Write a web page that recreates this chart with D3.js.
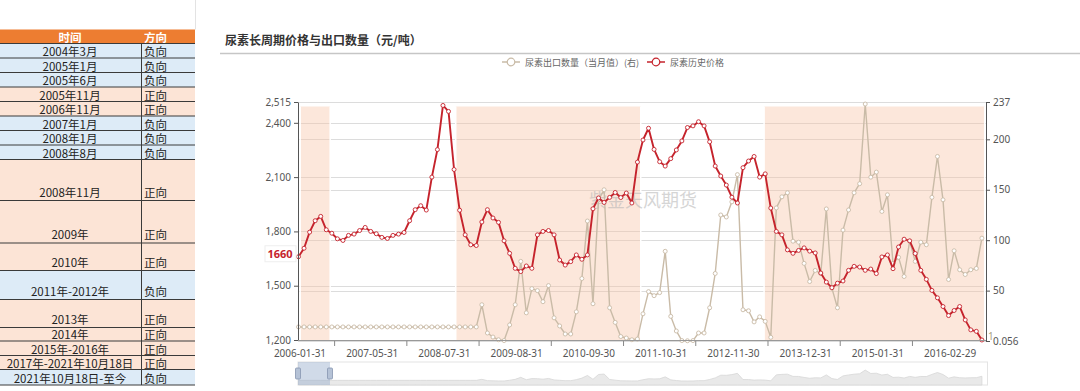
<!DOCTYPE html>
<html>
<head>
<meta charset="utf-8">
<script src="https://cdn.jsdelivr.net/npm/d3@7"></script>
<style>
  html, body { margin: 0; padding: 0; background: #fff; }
  svg { display: block; font-family: "Noto Sans", "Noto Sans CJK SC", sans-serif; }
</style>
</head>
<body>
<svg id="chart" width="1080" height="391"></svg>
<script>
/************************* Data *************************/
const tableHead  = ['时间', '方向'];
const periods    = ['2004年3月', '2005年1月', '2005年6月', '2005年11月', '2006年11月', '2007年1月',
                    '2008年1月', '2008年8月', '2008年11月', '2009年', '2010年', '2011年-2012年',
                    '2013年', '2014年', '2015年-2016年', '2017年-2021年10月18日', '2021年10月18日-至今'];
const directions = ['负向', '负向', '负向', '正向', '正向', '负向', '负向', '负向', '正向', '正向',
                    '正向', '负向', '正向', '正向', '正向', '正向', '负向'];

// months absent from the source series (the first two years are not fully monthly)
const missingMonths = ['2006-04', '2006-08', '2006-12', '2007-12'];

// 尿素历史价格, 元/吨 (left axis)
const price = [
  1660, 1707, 1796, 1859, 1883, 1809, 1790, 1759, 1750, 1778,
  1785, 1805, 1822, 1800, 1787, 1767, 1761, 1778, 1785, 1794,
  1859, 1920, 1942, 1918, 2100, 2252, 2496, 2463, 2142, 1917,
  1781, 1726, 1722, 1852, 1920, 1874, 1850, 1748, 1679, 1596,
  1578, 1609, 1596, 1781, 1800, 1805, 1781, 1642, 1614, 1633,
  1670, 1646, 1670, 1925, 1985, 1960, 1988, 2015, 1987, 2012,
  1957, 2183, 2305, 2370, 2253, 2185, 2161, 2202, 2250, 2300,
  2374, 2383, 2406, 2383, 2295, 2161, 2106, 2056, 1989, 1957,
  2152, 2189, 2214, 2100, 2118, 1929, 1800, 1781, 1698, 1679,
  1695, 1709, 1691, 1681, 1570, 1520, 1489, 1514, 1526, 1585,
  1607, 1603, 1585, 1592, 1567, 1659, 1670, 1594, 1714, 1757,
  1748, 1678, 1585, 1535, 1474, 1433, 1385, 1335, 1363, 1385,
  1311, 1256, 1248, 1200
];

// 尿素出口数量（当月值）, right axis
const exportQty = [
  14, 14, 14, 14, 14, 14, 14, 14, 14, 14,
  14, 14, 14, 14, 14, 14, 14, 14, 14, 14,
  14, 14, 14, 14, 14, 14, 14, 14, 14, 14,
  14, 14, 14, 36, 8, 4, 1.3, 0.5, 16, 36,
  79, 28, 52, 50, 39, 55, 23, 15, 7, 7,
  29, 62, 119, 37, 140, 150, 33, 18.5, 4.5, 3,
  1.3, 2, 27, 49, 45, 48, 89, 24.5, 10, 0.5,
  0.3, 0.5, 8, 8, 33, 67, 125, 123, 138, 165,
  31, 30, 19, 24, 19.5, 3.7, 132, 143, 147, 99,
  98, 77, 59, 70, 67, 131, 52.5, 33, 110, 130,
  147, 156, 235, 162.5, 167.5, 128.5, 145, 77, 83, 64,
  99, 79, 98, 95.5, 142.5, 183, 140, 61, 89.5, 70.7,
  66, 70.7, 72, 102
];

const leftTicks  = [1200, 1500, 1800, 2100, 2400, 2515];
const rightTicks = [0.056, 50, 100, 150, 200, 237];
const labelEvery = 13;

// highlighted periods, in category-index units
const shadeRanges = [[0.3, 5.7], [28.3, 61.6], [83.8, 123.5]];

/************************* Constants *************************/
const RED = '#c5232c';
const TAN = '#c9bba7';
const BLUE_ROW = '#ddebf7';
const PEACH_ROW = '#fce4d6';
const ORANGE = '#ed7d31';
const PLOT = { left: 298, right: 986, top: 102, bottom: 340 };

const monthKey = d3.utcFormat('%Y-%m');
const categories = d3.utcMonth.range(new Date(Date.UTC(2006, 0, 1)), new Date(Date.UTC(2016, 8, 1)))
  .filter(m => !missingMonths.includes(monthKey(m)))
  .map(m => d3.utcFormat('%Y-%m-%d')(d3.utcDay.offset(d3.utcMonth.offset(m, 1), -1)));

const svg = d3.select('#chart');

/************************* Table *************************/
const rowEdges = [29.5, 43.5, 58, 72.5, 87, 101.5, 116, 130.5, 145, 159.5, 200.5,
                  243, 270.5, 299.5, 327.5, 341, 355.5, 369.5, 385];
const table = svg.append('g').attr('class', 'table');
const colX = 141.5, tableRight = 195;

table.append('line')
  .attr('x1', tableRight + 0.5).attr('x2', tableRight + 0.5)
  .attr('y1', 0).attr('y2', rowEdges[0])
  .attr('stroke', '#e3e3e3');

table.append('rect')
  .attr('x', 0).attr('y', rowEdges[0])
  .attr('width', tableRight).attr('height', rowEdges[1] - rowEdges[0])
  .attr('fill', ORANGE);

tableHead.forEach((t, i) => {
  table.append('text')
    .attr('x', i === 0 ? 70 : 144)
    .attr('y', (rowEdges[0] + rowEdges[1]) / 2)
    .attr('text-anchor', i === 0 ? 'middle' : 'start')
    .attr('dominant-baseline', 'central')
    .style('font-family', '"Noto Sans CJK SC"')
    .style('font-size', '11.5px')
    .style('font-weight', 700)
    .style('fill', '#fff')
    .text(t);
});

periods.forEach((p, i) => {
  const y0 = rowEdges[i + 1], y1 = rowEdges[i + 2];
  // Excel-style bottom alignment; tall rows sit a little higher
  const ty = y1 - (y1 - y0 > 20 ? 9 : 7);
  table.append('rect')
    .attr('x', 0).attr('y', y0)
    .attr('width', tableRight).attr('height', y1 - y0)
    .attr('fill', directions[i] === '正向' ? PEACH_ROW : BLUE_ROW);

  table.append('text')
    .attr('x', 70).attr('y', ty)
    .attr('text-anchor', 'middle')
    .attr('dominant-baseline', 'central')
    .style('font-family', '"Noto Sans CJK SC"')
    .style('font-size', '11.5px')
    .style('fill', '#222')
    .text(p);

  table.append('text')
    .attr('x', 144).attr('y', ty)
    .attr('dominant-baseline', 'central')
    .style('font-family', '"Noto Sans CJK SC"')
    .style('font-size', '11.5px')
    .style('fill', '#222')
    .text(directions[i]);
});

rowEdges.slice(1).forEach(y => {
  table.append('line')
    .attr('x1', 0).attr('x2', tableRight)
    .attr('y1', y).attr('y2', y)
    .attr('stroke', '#3a3a3a').attr('stroke-width', 1);
});
table.append('line')
  .attr('x1', colX).attr('x2', colX)
  .attr('y1', rowEdges[1]).attr('y2', rowEdges[rowEdges.length - 1])
  .attr('stroke', '#3a3a3a');

/************************* Title & legend *************************/
svg.append('text')
  .attr('x', 225).attr('y', 39)
  .attr('dominant-baseline', 'central')
  .style('font-family', '"Noto Sans CJK SC"')
  .style('font-size', '12px')
  .style('font-weight', 700)
  .style('fill', '#333')
  .text('尿素长周期价格与出口数量（元/吨）');

svg.append('line')
  .attr('x1', 220).attr('x2', 1080)
  .attr('y1', 53.5).attr('y2', 53.5)
  .attr('stroke', '#c6c6c6').attr('stroke-width', 1.5);

const legendItems = [
  { label: '尿素出口数量（当月值）(右)', color: TAN, x: 502 },
  { label: '尿素历史价格', color: RED, x: 647 }
];
legendItems.forEach(d => {
  const g = svg.append('g').attr('transform', `translate(${d.x},62)`);
  g.append('line').attr('x1', 0).attr('x2', 18)
    .attr('stroke', d.color).attr('stroke-width', 1.5);
  g.append('circle').attr('cx', 9).attr('r', 3.8)
    .attr('fill', '#fff').attr('stroke', d.color).attr('stroke-width', 1.2);
  g.append('text').attr('x', 23)
    .attr('dominant-baseline', 'central')
    .style('font-family', '"Noto Sans CJK SC"')
    .style('font-size', '9px')
    .style('fill', '#666')
    .text(d.label);
});

/************************* Scales *************************/
const x = d3.scaleLinear().domain([0, categories.length - 1]).range([298.5, 981.9]);
const yL = d3.scaleLinear().domain([1200, 2515]).range([PLOT.bottom, PLOT.top]);
const yR = d3.scaleLinear().domain([0.056, 237]).range([PLOT.bottom + 1, PLOT.top]);

/************************* Grid *************************/
const grid = svg.append('g').attr('class', 'grid');
[...leftTicks.map(yL), ...rightTicks.map(yR)].forEach(y => {
  grid.append('line')
    .attr('x1', PLOT.left).attr('x2', PLOT.right)
    .attr('y1', Math.round(y) + 0.5).attr('y2', Math.round(y) + 0.5)
    .attr('stroke', '#dcdcdc');
});

/************************* Highlighted periods *************************/
const shade = svg.append('g').attr('class', 'shade');
shadeRanges.forEach(([a, b]) => {
  shade.append('rect')
    .attr('x', x(a)).attr('y', 106.5)
    .attr('width', Math.min(x(b), PLOT.right) - x(a))
    .attr('height', PLOT.bottom - 106.5)
    .attr('fill', 'rgba(248,196,165,0.4)');
  [x(a), Math.min(x(b), PLOT.right)].forEach(xe => {
    shade.append('line')
      .attr('x1', xe).attr('x2', xe)
      .attr('y1', 106.5).attr('y2', PLOT.bottom)
      .attr('stroke', '#fff').attr('stroke-width', 1.5);
  });
});

// watermark
svg.append('text')
  .attr('x', 589).attr('y', 199)
  .attr('dominant-baseline', 'central')
  .style('font-family', '"Noto Sans CJK SC"')
  .style('font-size', '18px')
  .style('fill', '#b4b4b4')
  .style('opacity', 0.55)
  .text('紫金天风期货');

/************************* Series *************************/
function drawSeries(values, yScale, color, width) {
  const g = svg.append('g');
  g.append('path')
    .datum(values)
    .attr('d', d3.line().x((d, i) => x(i)).y(d => yScale(d)))
    .attr('fill', 'none')
    .attr('stroke', color)
    .attr('stroke-width', width)
    .attr('stroke-linejoin', 'round');
  g.selectAll('circle')
    .data(values)
    .join('circle')
      .attr('cx', (d, i) => x(i))
      .attr('cy', d => yScale(d))
      .attr('r', 2)
      .attr('fill', '#fff')
      .attr('stroke', color)
      .attr('stroke-width', 0.9);
}
drawSeries(exportQty, yR, TAN, 1.4);
drawSeries(price, yL, RED, 1.9);

/************************* Axes *************************/
const axisStyle = g => {
  g.select('.domain').attr('stroke', '#555');
  g.selectAll('.tick line').attr('stroke', '#555');
  g.selectAll('.tick text')
    .style('font-size', '10px')
    .style('fill', '#555')
    .style('font-family', '"Noto Sans", sans-serif');
};

svg.append('g')
  .attr('transform', `translate(${PLOT.left},0)`)
  .call(d3.axisLeft(yL).tickValues(leftTicks).tickSize(4).tickSizeOuter(0).tickFormat(d3.format(',')))
  .call(axisStyle);

svg.append('g')
  .attr('transform', `translate(${PLOT.right},0)`)
  .call(d3.axisRight(yR).tickValues(rightTicks).tickSize(4).tickSizeOuter(0)
    .tickFormat(d => d < 1 ? '0.056' : d))
  .call(axisStyle);

// x axis: labels every 13 categories, ticks half a step off
const xAxis = svg.append('g').attr('class', 'x-axis');
xAxis.append('line')
  .attr('x1', PLOT.left).attr('x2', PLOT.right)
  .attr('y1', PLOT.bottom + 0.5).attr('y2', PLOT.bottom + 0.5)
  .attr('stroke', '#999');
const labelIdx = d3.range(0, categories.length, labelEvery);
labelIdx.forEach(i => {
  const tx = x(i + labelEvery / 2);
  if (tx < PLOT.right - 5) {
    xAxis.append('line')
      .attr('x1', tx).attr('x2', tx)
      .attr('y1', PLOT.bottom + 1).attr('y2', PLOT.bottom + 6)
      .attr('stroke', '#888');
  }
  xAxis.append('text')
    .attr('x', x(i) + 1.5).attr('y', 353)
    .attr('text-anchor', 'middle')
    .attr('dominant-baseline', 'central')
    .style('font-size', '10px')
    .style('fill', '#555')
    .text(categories[i]);
});

// first price label
const firstLabel = svg.append('g').attr('transform', `translate(280,${yL(price[0]) - 3})`);
firstLabel.append('rect')
  .attr('x', -15).attr('y', -8).attr('width', 31).attr('height', 16)
  .attr('fill', '#fff').attr('stroke', '#eee');
firstLabel.append('text')
  .attr('text-anchor', 'middle')
  .attr('dominant-baseline', 'central')
  .style('font-size', '11px')
  .style('font-weight', 700)
  .style('fill', RED)
  .text(price[0]);

svg.append('text')
  .attr('x', 988).attr('y', 336)
  .attr('dominant-baseline', 'central')
  .style('font-size', '10px')
  .style('fill', '#a9a27f')
  .text('1');

/************************* Data zoom slider *************************/
const slider = svg.append('g').attr('class', 'slider');
const sy0 = 362, sy1 = 385;
const ys = d3.scaleLinear().domain([0, 237]).range([381, 370]);
slider.append('rect')
  .attr('x', PLOT.left).attr('y', sy0)
  .attr('width', PLOT.right + 1.5 - PLOT.left).attr('height', sy1 - sy0)
  .attr('fill', '#fff').attr('stroke', '#e4e4e4');
slider.append('path')
  .datum(exportQty)
  .attr('d', d3.area().x((d, i) => x(i)).y0(sy1).y1(d => ys(d)))
  .attr('fill', '#e9e9e9').attr('stroke', '#d7d7d7').attr('stroke-width', 0.8);
slider.append('rect')
  .attr('x', PLOT.left).attr('y', sy0)
  .attr('width', 32).attr('height', sy1 - sy0)
  .attr('fill', 'rgba(150,172,205,0.45)');
[PLOT.left, PLOT.left + 32].forEach(hx => {
  slider.append('rect')
    .attr('x', hx - 2.5).attr('y', 368)
    .attr('width', 5).attr('height', 11).attr('rx', 1)
    .attr('fill', '#b5c2d6').attr('stroke', '#8796b0').attr('stroke-width', 0.8);
});
</script>
</body>
</html>
